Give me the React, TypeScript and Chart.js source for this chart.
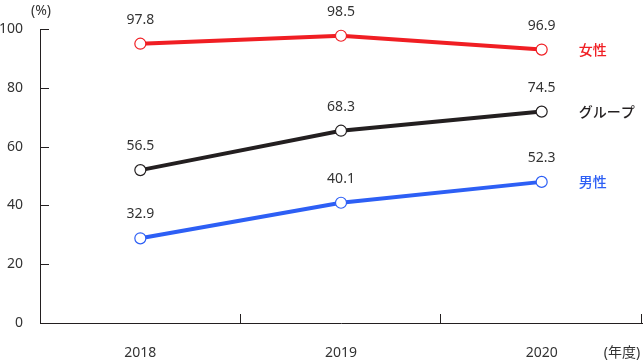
import React, { useEffect, useRef } from "react";
import { Chart, registerables } from "chart.js";

Chart.register(...registerables);

const categories = ["2018", "2019", "2020"];
const seriesNames = ["女性", "グループ", "男性"];
// plotted positions
const femaleValues = [95.0, 97.7, 93.0];
const groupValues = [52.0, 65.4, 71.9];
const maleValues = [28.8, 40.9, 48.0];
// printed value labels
const femaleLabels = ["97.8", "98.5", "96.9"];
const groupLabels = ["56.5", "68.3", "74.5"];
const maleLabels = ["32.9", "40.1", "52.3"];
const yTicks = [0, 20, 40, 60, 80, 100];

const RED = "#f01e23";
const BLACK = "#231f20";
const BLUE = "#2d5ff5";
const TEXT = "#333333";
const FONT = '"Noto Sans", "Noto Sans CJK JP", sans-serif';

export default function App() {
  const ref = useRef<HTMLCanvasElement | null>(null);

  useEffect(() => {
    document.body.style.margin = "0";
    const canvas = ref.current;
    if (!canvas) return;

    const labelSets = [femaleLabels, groupLabels, maleLabels];
    const colors = [RED, BLACK, BLUE];

    const annotate = {
      id: "annotate",
      afterDraw(chart: any) {
        const ctx = chart.ctx;
        const xs = chart.scales.x;
        const ys = chart.scales.y;
        const area = chart.chartArea;
        ctx.save();
        // inward tick marks
        ctx.strokeStyle = BLACK;
        ctx.lineWidth = 1;
        ctx.beginPath();
        yTicks.forEach((v) => {
          const y = Math.round(ys.getPixelForValue(v)) + 0.5;
          ctx.moveTo(area.left, y);
          ctx.lineTo(area.left + 9, y);
        });
        const step = xs.getPixelForValue(1) - xs.getPixelForValue(0);
        categories.forEach((_, i) => {
          const x = Math.round(xs.getPixelForValue(i) + step / 2) - 0.5;
          ctx.moveTo(x, area.bottom);
          ctx.lineTo(x, area.bottom - 9);
        });
        ctx.stroke();

        // value labels and series names
        chart.data.datasets.forEach((ds: any, di: number) => {
          const meta = chart.getDatasetMeta(di);
          ctx.font = `14px ${FONT}`;
          ctx.fillStyle = TEXT;
          ctx.textAlign = "center";
          ctx.textBaseline = "middle";
          meta.data.forEach((pt: any, i: number) => {
            ctx.fillText(labelSets[di][i], pt.x, pt.y - 24);
          });
          const last = meta.data[meta.data.length - 1];
          ctx.font = `500 14px ${FONT}`;
          ctx.fillStyle = colors[di];
          ctx.textAlign = "left";
          ctx.fillText(seriesNames[di], last.x + 37, last.y + 1);
        });

        // axis titles
        ctx.fillStyle = TEXT;
        ctx.font = `14px ${FONT}`;
        ctx.textAlign = "center";
        ctx.textBaseline = "middle";
        ctx.fillText("(%)", area.left + 1, 11);
        ctx.fillText("(年度)", 622, 353);
        ctx.restore();
      },
    };

    const mk = (label: string, data: number[], color: string) => ({
      label,
      data,
      borderColor: color,
      backgroundColor: "#ffffff",
      borderWidth: 4,
      pointRadius: 5.5,
      pointBorderWidth: 1.2,
      pointBorderColor: color,
      pointBackgroundColor: "#ffffff",
      tension: 0,
      clip: false as any,
    });

    const chart = new Chart(canvas, {
      type: "line",
      data: {
        labels: categories,
        datasets: [
          mk(seriesNames[0], femaleValues, RED),
          mk(seriesNames[1], groupValues, BLACK),
          mk(seriesNames[2], maleValues, BLUE),
        ],
      },
      options: {
        responsive: false,
        animation: false,
        layout: { autoPadding: false, padding: { top: 29, right: 1, left: 0, bottom: 0 } },
        plugins: {
          legend: { display: false },
          tooltip: { enabled: false },
        },
        scales: {
          x: {
            type: "category",
            offset: true,
            grid: { display: true, drawOnChartArea: false, drawTicks: false, offset: true },
            border: { display: true, color: BLACK, width: 1 },
            ticks: { color: TEXT, font: { size: 14, family: FONT }, padding: 22, maxRotation: 0 },
            afterFit: (s: any) => {
              s.height = 40;
            },
          },
          y: {
            type: "linear",
            min: 0,
            max: 100,
            afterBuildTicks: (s: any) => {
              s.ticks = yTicks.map((v) => ({ value: v }));
            },
            grid: { display: true, drawOnChartArea: false, drawTicks: false },
            border: { display: true, color: BLACK, width: 1 },
            ticks: { color: TEXT, font: { size: 14, family: FONT }, padding: 17 },
            afterFit: (s: any) => {
              s.width = 40;
            },
          },
        },
      },
      plugins: [annotate],
    });

    return () => chart.destroy();
  }, []);

  return <canvas ref={ref} width={643} height={363} style={{ display: "block" }} />;
}
